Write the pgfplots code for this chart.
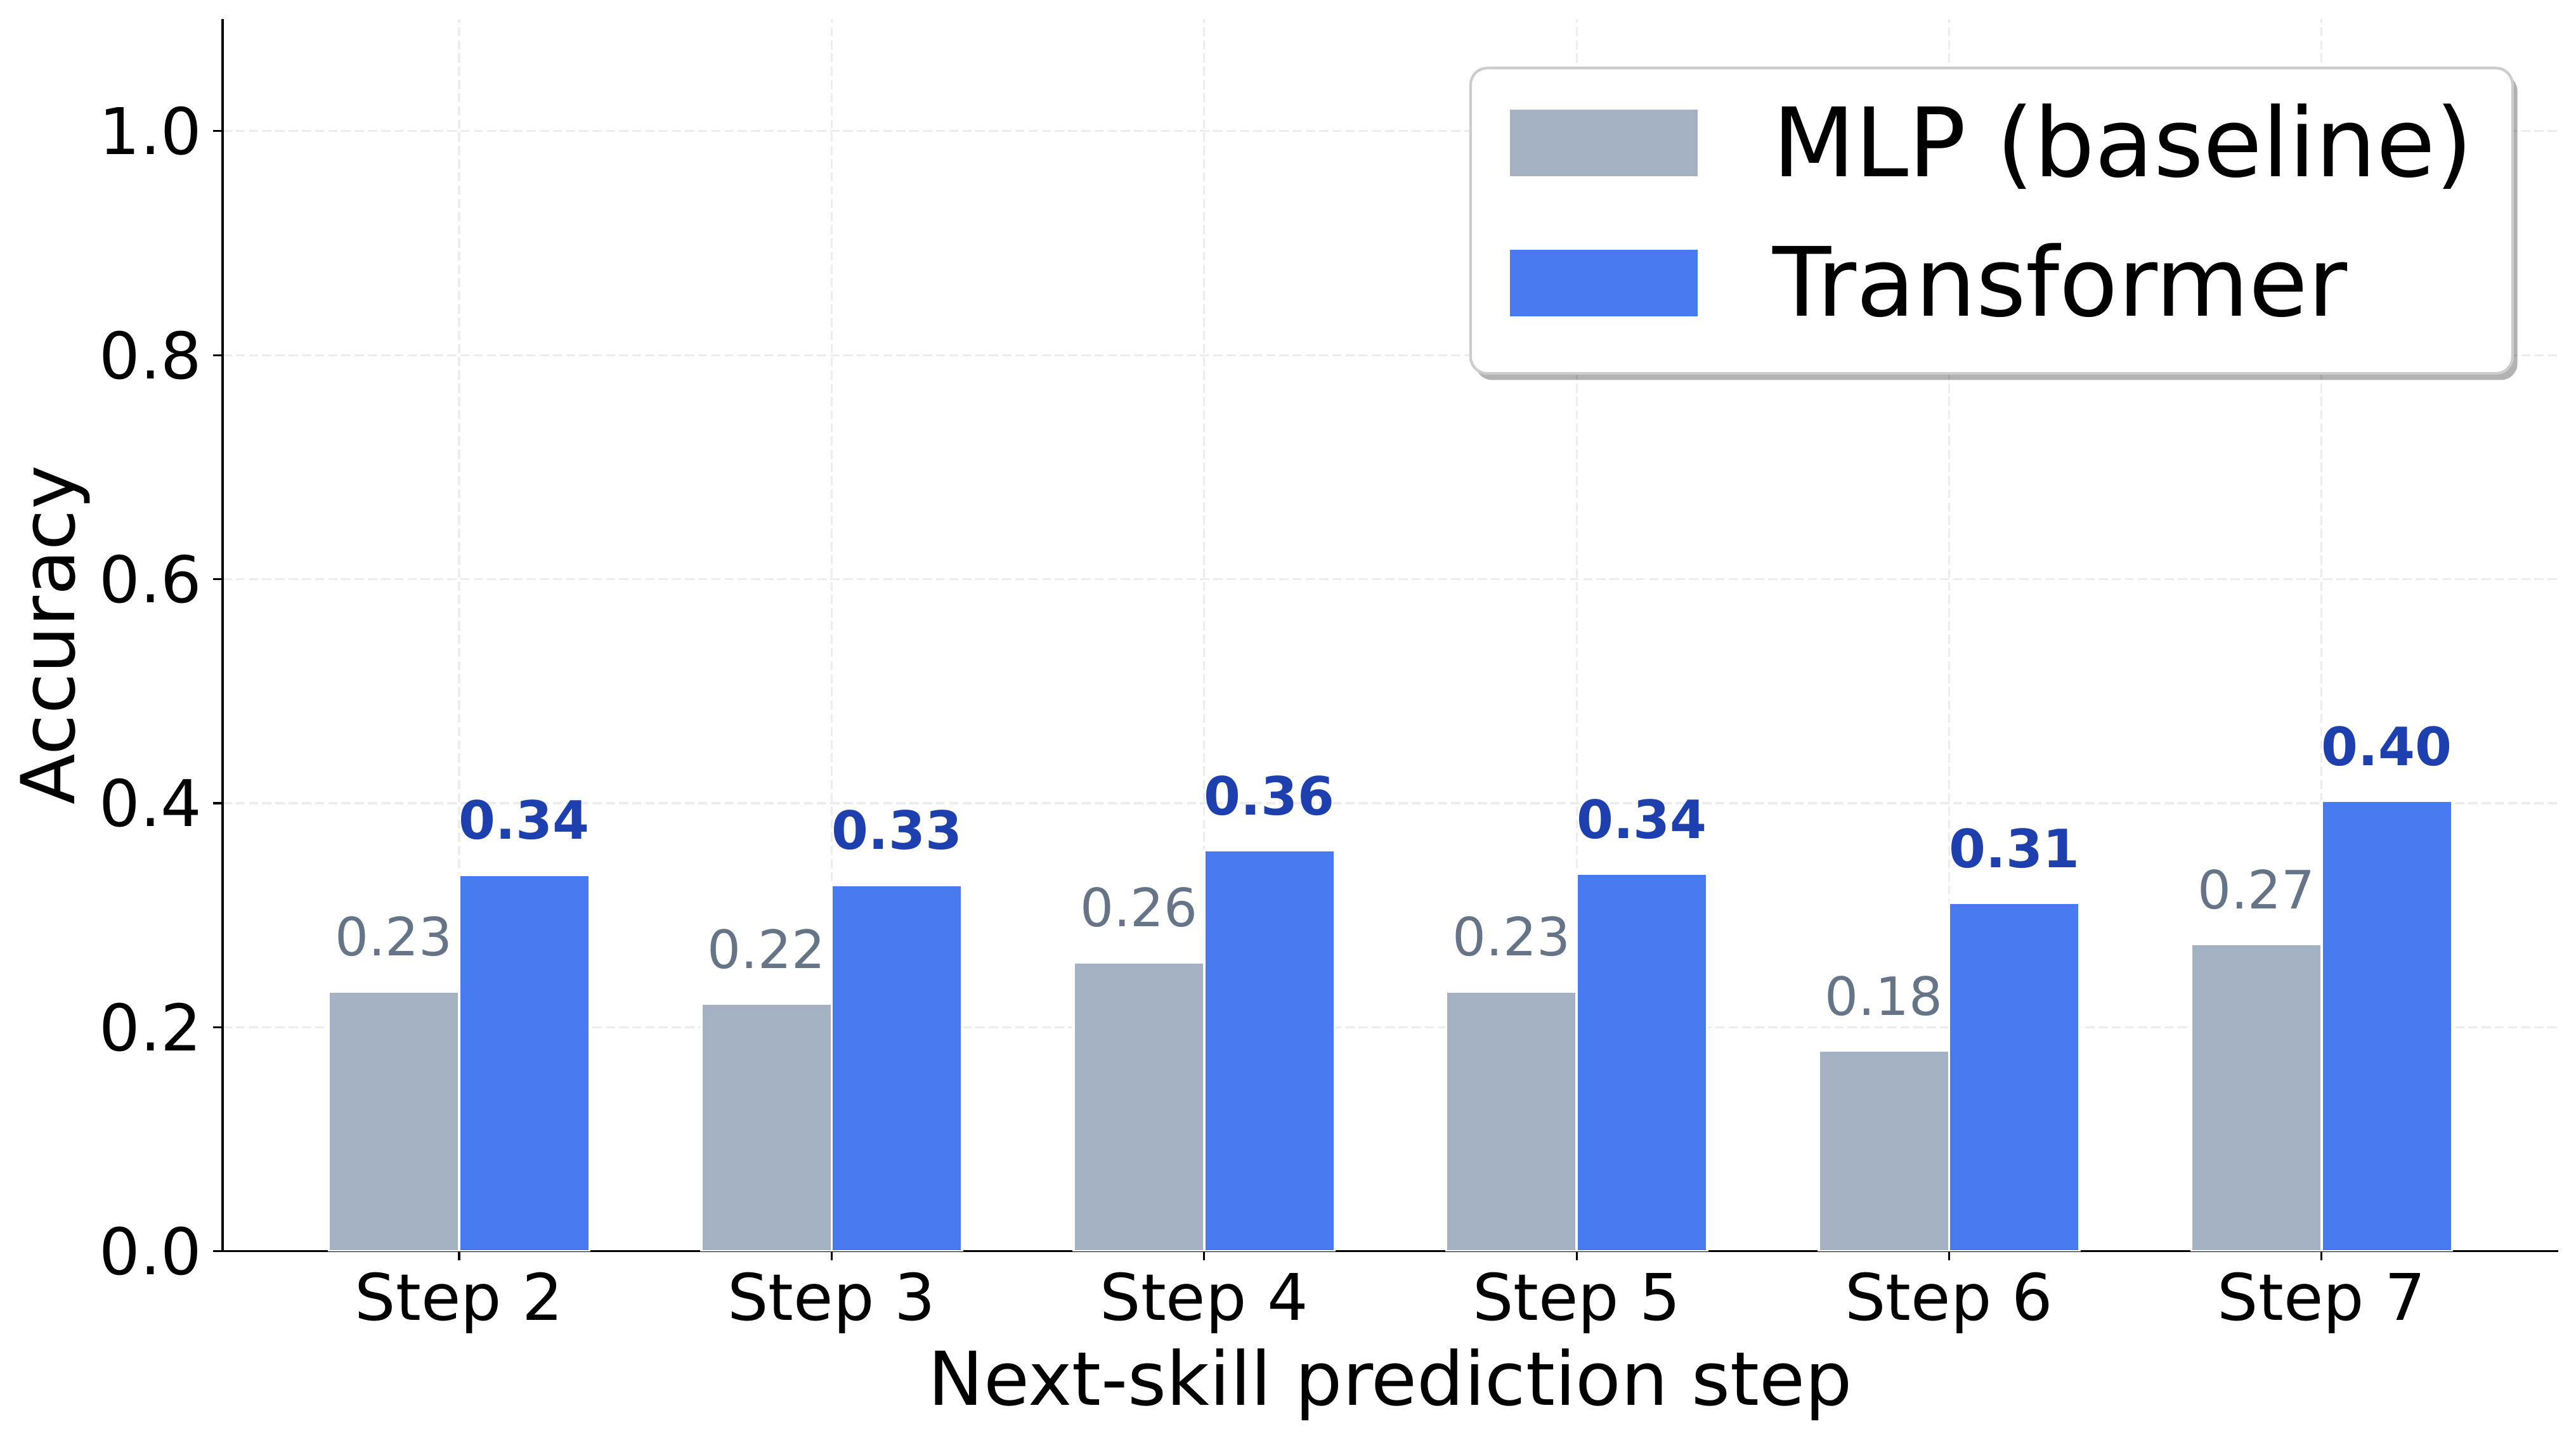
\documentclass[border=0pt]{standalone}
\usepackage{pgfplots}
\pgfplotsset{compat=1.18}
\usepackage{fontspec}
\setmainfont{DejaVu Sans}
\usetikzlibrary{shadows}
\makeatletter
\tikzset{no preactions/.code={\let\tikz@preactions\pgfutil@empty}}
\makeatother
\definecolor{mlp}{HTML}{A4B1C3}
\definecolor{tf}{HTML}{467AEE}
\definecolor{mlptxt}{HTML}{667488}
\definecolor{tftxt}{HTML}{1E40AF}
\definecolor{gridc}{HTML}{EDEDED}

\pgfplotstableread{
x y label
0 0.232 0.23
1 0.221 0.22
2 0.258 0.26
3 0.232 0.23
4 0.179 0.18
5 0.274 0.27
}\mlpdata
\pgfplotstableread{
x y label
0 0.336 0.34
1 0.327 0.33
2 0.358 0.36
3 0.337 0.34
4 0.311 0.31
5 0.402 0.40
}\tfdata

\begin{document}
\begin{tikzpicture}
\useasboundingbox (-67.4pt,-55.3pt) rectangle (712.6pt,379.0pt);
\begin{axis}[
  at={(0pt,0pt)}, anchor=south west,
  scale only axis, width=707.2pt, height=373.2pt,
  xmin=-0.635, xmax=5.635, ymin=0, ymax=1.1,
  axis x line*=bottom, axis y line*=left,
  axis line style={-, line width=0.6pt},
  xtick={0,1,2,3,4,5},
  xticklabels={Step 2,Step 3,Step 4,Step 5,Step 6,Step 7},
  ytick={0,0.2,0.4,0.6,0.8,1.0},
  yticklabel={\pgfmathprintnumber[fixed,fixed zerofill,precision=1,assume math mode=true]{\tick}},
  tick align=outside, major tick length=2.8pt,
  tick style={black, line width=0.6pt},
  ticklabel style={font=\fontsize{19.5}{23}\selectfont},
  grid=major, grid style={gridc, line width=0.6pt, dash pattern=on 2.8pt off 1.2pt},
  xlabel={Next-skill prediction step}, ylabel={Accuracy},
  label style={font=\fontsize{22.5}{26}\selectfont},
  xlabel style={at={(axis description cs:0.5,0)}, anchor=north, inner sep=0pt, yshift=-29.3pt},
  ylabel style={at={(axis description cs:-0.087,0.5)}, anchor=north, inner sep=0pt},
  legend cell align=left,
  legend image code/.code={\fill[no preactions,#1,draw=none,sharp corners] (0pt,-7.75pt) rectangle (56.8pt,12.35pt);},
  legend style={at={(0.981,0.9614)}, anchor=north east, draw=gray!40, line width=0.8pt,
    fill=white, rounded corners=5pt,
    drop shadow={shadow xshift=1.5pt, shadow yshift=-2pt, fill=black, opacity=0.3},
    font=\fontsize{29}{34}\selectfont, inner xsep=12pt, inner ysep=11.8pt, row sep=15.9pt,
    nodes={inner sep=0pt, text height=21pt, text depth=5.5pt},
    /tikz/every odd column/.append style={column sep=22.7pt}},
]
\addplot[ybar, bar width=0.35, bar shift=-0.175, fill=mlp, draw=white, line width=0.7pt,
  point meta=explicit symbolic, nodes near coords,
  every node near coord/.append style={font=\fontsize{16}{19}\selectfont, text=mlptxt, anchor=south, inner sep=0pt, yshift=10.2pt, xshift=-19.74pt}]
  table[x=x, y=y, meta=label] {\mlpdata};
\addlegendentry{MLP (baseline)}
\addplot[ybar, bar width=0.35, bar shift=0.175, fill=tf, draw=white, line width=0.7pt,
  point meta=explicit symbolic, nodes near coords,
  every node near coord/.append style={font=\bfseries\fontsize{16}{19}\selectfont, text=tftxt, anchor=south, inner sep=0pt, yshift=10.2pt, xshift=19.74pt}]
  table[x=x, y=y, meta=label] {\tfdata};
\addlegendentry{Transformer}
\end{axis}
\end{tikzpicture}
\end{document}
